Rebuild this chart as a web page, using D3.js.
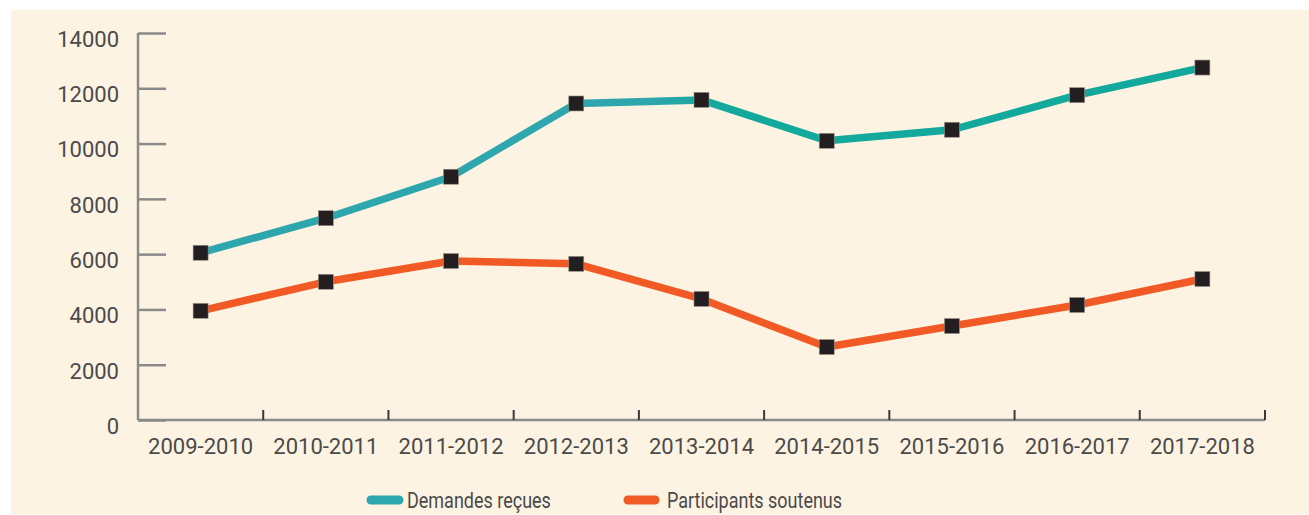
<!DOCTYPE html>
<html><head><meta charset="utf-8">
<script src="https://cdn.jsdelivr.net/npm/d3@7"></script>
<style>
html,body{margin:0;padding:0;background:#fff;}
svg{display:block;}
</style></head>
<body>
<svg id="chart" width="1309" height="515"></svg>
<script>
const categories = ["2009-2010","2010-2011","2011-2012","2012-2013","2013-2014","2014-2015","2015-2016","2016-2017","2017-2018"];
const demandes = [6050, 7300, 8800, 11450, 11580, 10100, 10500, 11750, 12750];
const participants = [3950, 5000, 5750, 5650, 4380, 2640, 3400, 4160, 5100];
const yTicks = [0, 2000, 4000, 6000, 8000, 10000, 12000, 14000];
const seriesNames = ["Demandes reçues", "Participants soutenus"];

(function () {
const svg = d3.select("#chart");
const W = 1309, H = 515;
const mLeft = 138, mRight = 1265, mTop = 33, mBottom = 420;
const font = "Roboto, 'Noto Sans', sans-serif";
const textCol = "#4a4a4a";

svg.append("rect").attr("x", 11).attr("y", 10).attr("width", W - 11).attr("height", H - 11).attr("fill", "#fdf3e3");

const x = d3.scaleBand().domain(categories).range([mLeft, mRight]).padding(0);
const y = d3.scaleLinear().domain([0, 14000]).range([mBottom, mTop]);

const defs = svg.append("defs");
const grad = defs.append("linearGradient").attr("id", "teal").attr("gradientUnits", "userSpaceOnUse")
  .attr("x1", mLeft).attr("x2", mRight).attr("y1", 0).attr("y2", 0);
grad.append("stop").attr("offset", "0").attr("stop-color", "#2ea6ae");
grad.append("stop").attr("offset", "0.45").attr("stop-color", "#2ea6ae");
grad.append("stop").attr("offset", "0.52").attr("stop-color", "#13a99c");
grad.append("stop").attr("offset", "1").attr("stop-color", "#12a99c");

// Y axis
const yAxis = d3.axisRight(y).tickValues(yTicks).tickSize(28).tickFormat("");
const gy = svg.append("g").attr("transform", `translate(${mLeft},0)`).call(yAxis);
gy.select(".domain").attr("stroke", "#8a8a8a").attr("stroke-width", 2.5).attr("d", `M0,${mTop}V${mBottom}`);
gy.selectAll(".tick line").attr("stroke", "#8a8a8a").attr("stroke-width", 2.5);
svg.append("g").selectAll("text").data(yTicks).join("text")
  .attr("x", 119).attr("y", d => y(d) + 6).attr("dy", "0.36em")
  .attr("text-anchor", "end").attr("font-family", font).attr("font-size", 22)
  .attr("fill", textCol).text(d => d);

// X axis
const boundaries = categories.slice(1).map(c => x(c)).concat([mRight]);
svg.append("line").attr("x1", mLeft).attr("x2", mRight).attr("y1", mBottom).attr("y2", mBottom)
  .attr("stroke", "#8a8a8a").attr("stroke-width", 2.5);
svg.append("g").selectAll("line").data(boundaries).join("line")
  .attr("x1", d => d).attr("x2", d => d).attr("y1", mBottom).attr("y2", mBottom - 10)
  .attr("stroke", "#3a3a3a").attr("stroke-width", 2);
svg.append("g").selectAll("text").data(categories).join("text")
  .attr("x", d => x(d) + x.bandwidth() / 2).attr("y", 446).attr("dy", "0.36em")
  .attr("text-anchor", "middle").attr("font-family", font).attr("font-size", 22)
  .attr("fill", textCol).text(d => d);

const line = d3.line().x((d, i) => x(categories[i]) + x.bandwidth() / 2).y(d => y(d));

svg.append("path").datum(demandes).attr("d", line).attr("fill", "none")
  .attr("stroke", "url(#teal)").attr("stroke-width", 7.5).attr("stroke-linejoin", "round");
svg.append("path").datum(participants).attr("d", line).attr("fill", "none")
  .attr("stroke", "#f15a24").attr("stroke-width", 7.5).attr("stroke-linejoin", "round");

const sq = 15;
[demandes, participants].forEach(arr => {
  svg.append("g").selectAll("rect").data(arr).join("rect")
    .attr("x", (d, i) => x(categories[i]) + x.bandwidth() / 2 - sq / 2)
    .attr("y", d => y(d) - sq / 2)
    .attr("width", sq).attr("height", sq)
    .attr("fill", "#231f20").attr("stroke", "#9a928a").attr("stroke-width", 0.6);
});

// Legend
const legend = [
  {name: seriesNames[0], color: "#2ba7ad", x1: 371, x2: 399, tx: 407},
  {name: seriesNames[1], color: "#f15a24", x1: 628, x2: 655, tx: 667}
];
const lg = svg.append("g");
legend.forEach(l => {
  lg.append("line").attr("x1", l.x1).attr("x2", l.x2).attr("y1", 500).attr("y2", 500)
    .attr("stroke", l.color).attr("stroke-width", 9).attr("stroke-linecap", "round");
  lg.append("text").attr("x", l.tx).attr("y", 500).attr("dy", "0.36em")
    .attr("font-family", font).attr("font-size", 22.5).attr("fill", "#4a4a4a")
    .attr("transform", `translate(${l.tx},0) scale(0.8,1) translate(${-l.tx},0)`)
    .text(l.name);
});
})();
</script>
</body></html>
